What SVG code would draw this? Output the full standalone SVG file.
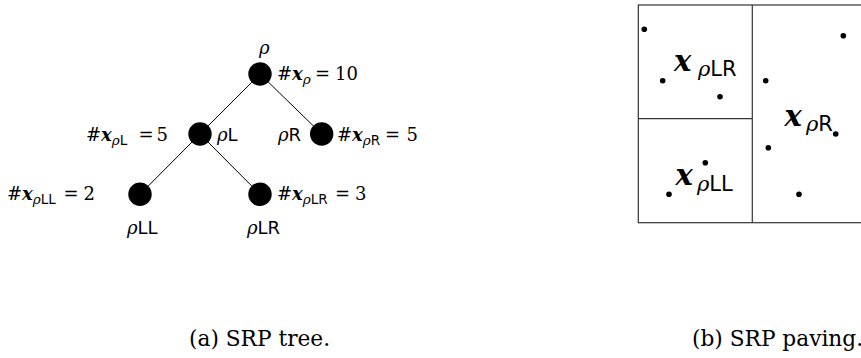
<svg xmlns="http://www.w3.org/2000/svg" width="861" height="358" viewBox="0 0 861 358">
<style>
  .edge { stroke: #000; stroke-width: 1; fill: none; }
  .node { fill: #000; }
  .t { font-family: "DejaVu Serif", "Liberation Serif", serif; font-size: 18px; fill: #000; }
  .s { font-size: 13.5px; }
  .bx { font-weight: bold; font-style: italic; }
  .it { font-style: italic; }
  .sf { font-family: "DejaVu Sans", "Liberation Sans", sans-serif; font-style: normal; }
  .pv { font-family: "DejaVu Serif", "Liberation Serif", serif; font-size: 29px; fill: #000; }
  .ps { font-size: 21px; }
  .cap { font-family: "DejaVu Serif", "Liberation Serif", serif; font-size: 21.7px; fill: #000; }
  .pt { fill: #000; }
  .box { stroke: #333; stroke-width: 1.2; fill: none; }
</style>
<rect width="861" height="358" fill="#fff"/>
<g id="connectors">
  <line class="edge" x1="260" y1="74" x2="200" y2="134"/>
  <line class="edge" x1="260" y1="74" x2="321.7" y2="134"/>
  <line class="edge" x1="200" y1="134" x2="140" y2="194.3"/>
  <line class="edge" x1="200" y1="134" x2="260" y2="194.3"/>
</g>
<g id="node-root">
  <circle class="node" cx="260" cy="74" r="11.7"/>
  <text class="t it" x="259" y="54">ρ</text>
  <text class="t" x="277" y="80">#<tspan class="bx">x</tspan><tspan class="it s" dy="3.5">ρ</tspan><tspan x="315" dy="-3.5">=</tspan><tspan x="335">10</tspan></text>
</g>
<g id="node-L">
  <circle class="node" cx="200" cy="134" r="11.7"/>
  <text class="t" x="86" y="141">#<tspan class="bx">x</tspan><tspan class="it s" dy="3.5">ρ</tspan><tspan class="sf s">L</tspan><tspan x="138.5" dy="-3.5">=</tspan><tspan x="156.5">5</tspan></text>
  <text class="t" x="217" y="141"><tspan class="it">ρ</tspan><tspan class="sf">L</tspan></text>
</g>
<g id="node-R">
  <circle class="node" cx="321.7" cy="134" r="11.7"/>
  <text class="t" x="278" y="141"><tspan class="it">ρ</tspan><tspan class="sf">R</tspan></text>
  <text class="t" x="337" y="141">#<tspan class="bx">x</tspan><tspan class="it s" dy="3.5">ρ</tspan><tspan class="sf s">R</tspan><tspan x="385" dy="-3.5">=</tspan><tspan x="406.5">5</tspan></text>
</g>
<g id="node-LL">
  <circle class="node" cx="140" cy="194.3" r="11.7"/>
  <text class="t" x="7" y="200">#<tspan class="bx">x</tspan><tspan class="it s" dy="3.5">ρ</tspan><tspan class="sf s">LL</tspan><tspan x="63.5" dy="-3.5">=</tspan><tspan x="83.5">2</tspan></text>
  <text class="t" x="127" y="234"><tspan class="it">ρ</tspan><tspan class="sf">LL</tspan></text>
</g>
<g id="node-LR">
  <circle class="node" cx="260" cy="194.3" r="11.7"/>
  <text class="t" x="277" y="200">#<tspan class="bx">x</tspan><tspan class="it s" dy="3.5">ρ</tspan><tspan class="sf s">LR</tspan><tspan x="335" dy="-3.5">=</tspan><tspan x="355">3</tspan></text>
  <text class="t" x="247" y="234"><tspan class="it">ρ</tspan><tspan class="sf">LR</tspan></text>
</g>
<g id="paving">
  <rect class="box" x="638.3" y="5" width="300" height="217.7"/>
  <line class="box" x1="752.3" y1="5" x2="752.3" y2="222.7"/>
  <line class="box" x1="638.3" y1="118.7" x2="752.3" y2="118.7"/>
  <circle class="pt" cx="644.3" cy="29.3" r="2.8"/>
  <circle class="pt" cx="662.7" cy="80.7" r="2.8"/>
  <circle class="pt" cx="720" cy="96.7" r="2.8"/>
  <circle class="pt" cx="843.3" cy="35.7" r="2.8"/>
  <circle class="pt" cx="765.7" cy="80.7" r="2.8"/>
  <circle class="pt" cx="835.7" cy="134" r="2.8"/>
  <circle class="pt" cx="768.3" cy="147.7" r="2.8"/>
  <circle class="pt" cx="705.3" cy="162.7" r="2.8"/>
  <circle class="pt" cx="669" cy="194.3" r="2.8"/>
  <circle class="pt" cx="799" cy="194.3" r="2.8"/>
  <text class="pv" x="674" y="71"><tspan class="bx">x</tspan><tspan class="it ps" x="698" dy="5">ρ</tspan><tspan class="sf ps">LR</tspan></text>
  <text class="pv" x="784.5" y="126"><tspan class="bx">x</tspan><tspan class="it ps" x="806" dy="5">ρ</tspan><tspan class="sf ps">R</tspan></text>
  <text class="pv" x="675.5" y="185"><tspan class="bx">x</tspan><tspan class="it ps" x="697" dy="6">ρ</tspan><tspan class="sf ps">LL</tspan></text>
</g>
<g id="captions">
  <text class="cap" x="189" y="346">(a) SRP tree.</text>
  <text class="cap" x="692" y="346">(b) SRP paving.</text>
</g>
</svg>
